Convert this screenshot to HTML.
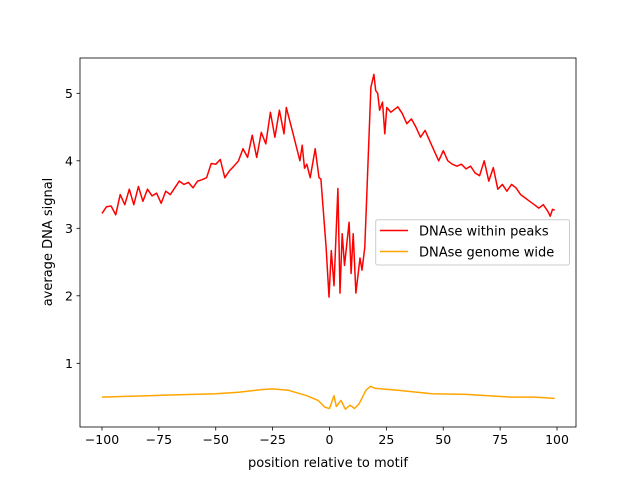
<!DOCTYPE html>
<html><head><meta charset="utf-8"><style>
body{margin:0;background:#fff}
svg{display:block;font-family:"DejaVu Sans","Liberation Sans",sans-serif}
</style></head><body>
<svg width="640" height="480" viewBox="0 0 640 480">
<rect width="640" height="480" fill="#fff"/>
<g id="plot"></g>
</svg>
<script>
const redX=[-100,-98,-96,-94,-92,-90,-88,-86,-84,-82,-80,-78,-76,-74,-72,-70,-68,-66,-64,-62,-60,-58,-56,-54,-52,-50,-48,-46,-44,-42,-40,-38,-36,-34,-32,-30,-28,-26,-24,-22,-20,-19,-16,-13,-12,-11,-10,-8.5,-6.3,-4.6,-3.8,-1.5,-0.2,0.8,2,3.7,4.6,5.6,6.6,8.6,9.5,10.4,11.6,13.4,14.3,15.5,17.2,18.2,19.5,20.3,21.2,22,23.3,24.3,25.2,27,30,32,34,36,38,40,42,44,46,48,50,52,54,56,58,60,62,64,66,68,70,72,74,76,78,80,82,84,86,88,90,92,94,96,97,98,99];
const redY=[3.22,3.32,3.33,3.2,3.5,3.35,3.58,3.35,3.62,3.4,3.58,3.48,3.52,3.37,3.55,3.5,3.6,3.7,3.65,3.68,3.6,3.7,3.72,3.75,3.96,3.95,4.02,3.75,3.85,3.92,4.0,4.18,4.05,4.38,4.05,4.42,4.25,4.72,4.35,4.75,4.4,4.79,4.4,4.0,4.23,3.89,3.95,3.75,4.18,3.75,3.73,2.72,1.98,2.67,2.15,3.59,2.04,2.92,2.45,3.09,2.33,2.92,2.04,2.56,2.38,2.72,4.2,5.09,5.28,5.04,5.0,4.75,4.87,4.4,4.79,4.72,4.8,4.7,4.55,4.62,4.5,4.35,4.45,4.3,4.15,4.0,4.15,4.0,3.95,3.92,3.95,3.88,3.92,3.82,3.78,4.0,3.7,3.9,3.58,3.65,3.55,3.65,3.6,3.5,3.45,3.4,3.35,3.3,3.35,3.25,3.18,3.28,3.27];
const orX=[-100,-90,-80,-70,-60,-50,-40,-30,-25,-18,-10,-5,-2,0,2,3,5,7,9,11,13,16,18,20,30,45,60,80,90,99];
const orY=[0.5,0.51,0.52,0.53,0.54,0.55,0.57,0.61,0.62,0.6,0.52,0.45,0.35,0.33,0.52,0.36,0.45,0.32,0.38,0.33,0.4,0.6,0.66,0.63,0.6,0.55,0.54,0.5,0.5,0.48];
const xTicks=[-100,-75,-50,-25,0,25,50,75,100];
const yTicks=[1,2,3,4,5];
const L=80,R=576,T=58,B=427;
const sx=x=>102+(x+100)*2.275;
const sy=y=>430.8-y*67.5;
const NS='http://www.w3.org/2000/svg';
const g=document.getElementById('plot');
function mk(t,a,txt){const e=document.createElementNS(NS,t);for(const k in a)e.setAttribute(k,a[k]);if(txt!==undefined)e.textContent=txt;g.appendChild(e);return e;}
function line(xs,ys,c,name){const p=mk('polyline',{points:xs.map((x,i)=>sx(x).toFixed(1)+','+sy(ys[i]).toFixed(1)).join(' '),fill:'none',stroke:c,'stroke-width':1.5,'stroke-linejoin':'round'});

}
line(orX,orY,'#ffa500','series-genome-wide');
line(redX,redY,'#ff0000','series-within-peaks');
const ax=mk('rect',{x:L,y:T,width:R-L,height:B-T,fill:'none',stroke:'#000','stroke-width':0.8});


xTicks.forEach(v=>{const x=sx(v);mk('line',{x1:x,x2:x,y1:B,y2:B+3.5,stroke:'#000','stroke-width':0.8});
const t=mk('text',{x:x,y:B+17,'font-size':12.5,'text-anchor':'middle',fill:'#000'},String(v).replace('-','\u2212'));

});
yTicks.forEach(v=>{const y=sy(v);mk('line',{x1:L-3.5,x2:L,y1:y,y2:y,stroke:'#000','stroke-width':0.8});
const t=mk('text',{x:L-7,y:y+4.5,'font-size':12.5,'text-anchor':'end',fill:'#000'},String(v));

});
const xt=mk('text',{x:328,y:467,'font-size':13,'text-anchor':'middle'},'position relative to motif');


const yt=mk('text',{x:0,y:0,'font-size':13,'text-anchor':'middle',transform:'translate(52,242) rotate(-90)'},'average DNA signal');


const lg=mk('rect',{x:375.7,y:219.7,width:193.8,height:45.3,rx:2,fill:'#fff','fill-opacity':0.8,stroke:'#ccc','stroke-width':1});


mk('line',{x1:380,x2:408,y1:230.5,y2:230.5,stroke:'#ff0000','stroke-width':1.5});
mk('line',{x1:380,x2:408,y1:251.5,y2:251.5,stroke:'#ffa500','stroke-width':1.5});
const l1=mk('text',{x:419,y:235.5,'font-size':13},'DNAse within peaks');


const l2=mk('text',{x:419,y:256.5,'font-size':13},'DNAse genome wide');


</script>
</body></html>
